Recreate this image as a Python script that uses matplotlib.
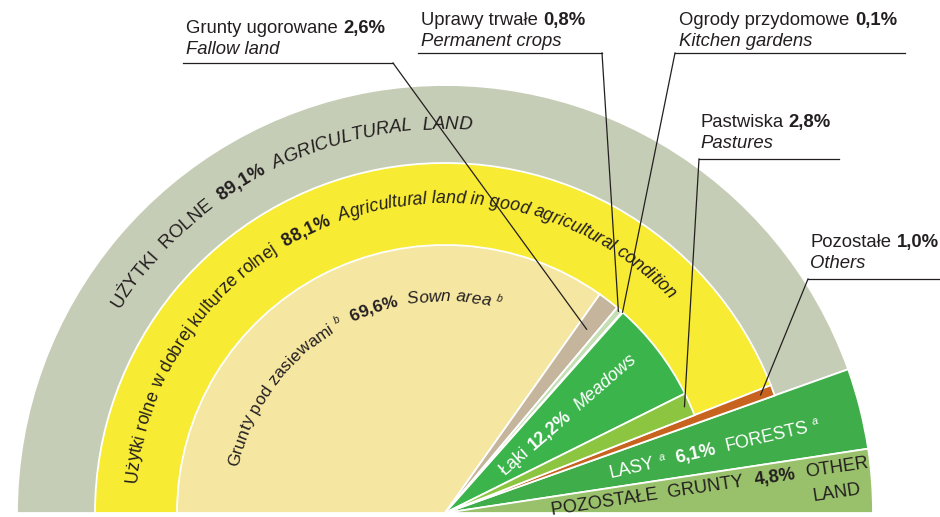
import numpy as np
import matplotlib
matplotlib.use("Agg")
import matplotlib.pyplot as plt
from matplotlib.font_manager import FontProperties, findfont, get_font

# udział w powierzchni ogólnej, %
outer_values = [89.1, 6.1, 4.8]          # użytki rolne, lasy, pozostałe grunty
outer_colors = ["#c6cdb6", "#3fae4a", "#99c06a"]

mid_values = [88.1, 1.0]                 # UR w dobrej kulturze, pozostałe
mid_colors = ["#f8eb33", "#c8621f"]

inner_values = [69.6, 2.6, 0.8, 0.1, 12.2, 2.8]   # zasiewy, ugory, uprawy trwałe, ogrody, łąki, pastwiska
inner_colors = ["#f5e6a1", "#c4b59c", "#c5dfb5", "#e6efd9", "#3bb44b", "#8cc540"]

DPI = 100
DARK = "#231f20"
CX, CY = 445, 4
R_OUT, R_MID, R_IN = 428, 350, 268
FAMILY = ["Liberation Sans", "DejaVu Sans"]
FS = 13.3

STY = {
    "n": dict(weight="normal", style="normal", scale=1.0, rise=0),
    "b": dict(weight="bold", style="normal", scale=1.0, rise=0),
    "i": dict(weight="normal", style="italic", scale=1.0, rise=0),
    "s": dict(weight="normal", style="italic", scale=0.6, rise=6),
}


def fprops(size, st):
    d = STY[st]
    return FontProperties(family=FAMILY, weight=d["weight"], style=d["style"],
                          size=size * d["scale"])


def advance(s, fp):
    font = get_font(findfont(fp))
    font.set_size(fp.get_size_in_points(), DPI)
    w = 0.0
    for ch in s:
        w += font.load_char(ord(ch)).linearHoriAdvance / 65536
    return w


fig = plt.figure(figsize=(9.4, 5.17), dpi=DPI)
ax = fig.add_axes([0, 0, 1, 1])

wp = dict(edgecolor="white", linewidth=1.3)
for vals, cols, r in [(outer_values, outer_colors, R_OUT),
                      (mid_values, mid_colors, R_MID),
                      (inner_values, inner_colors, R_IN)]:
    ax.pie(np.array(vals) / 200, radius=r, center=(CX, CY), startangle=180,
           counterclock=False, normalize=False, colors=cols, wedgeprops=wp)

ax.set_xlim(0, 940)
ax.set_ylim(0, 517)
ax.set_aspect("equal")
ax.axis("off")


def Y(py):
    return 517 - py


def mid_angle(vals, i):
    start = 180 - sum(vals[:i]) * 1.8
    return np.radians(start - vals[i] * 0.9)


def arc_text(segs, r, start, size=12, color=DARK):
    th = np.radians(start)
    for s, st in segs:
        fp = fprops(size, st)
        rr = r + STY[st]["rise"]
        for ch in s:
            w = advance(ch, fp)
            tc = th - (w / 2) / r
            if ch != " ":
                ax.text(CX + rr * np.cos(tc), CY + rr * np.sin(tc), ch, fontproperties=fp,
                        rotation=np.degrees(tc) - 90, rotation_mode="anchor",
                        ha="center", va="baseline", color=color)
            th -= w / r


def line_text(x, y, segs, rot=0, size=FS, color=DARK):
    a = np.radians(rot)
    for s, st in segs:
        fp = fprops(size, st)
        rise = STY[st]["rise"]
        lead = advance(s[:len(s) - len(s.lstrip())], fp)
        body = s.strip()
        if body:
            bx = x + lead * np.cos(a) - rise * np.sin(a)
            by = y + lead * np.sin(a) + rise * np.cos(a)
            ax.text(bx, by, body, fontproperties=fp, rotation=rot, rotation_mode="anchor",
                    ha="left", va="baseline", color=color)
        w = advance(s, fp)
        x += w * np.cos(a)
        y += w * np.sin(a)


# napisy w pierścieniach
arc_text([("UŻYTKI  ROLNE  ", "n"), ("89,1%", "b"), ("  AGRICULTURAL  LAND", "i")],
         384, 148, size=13.3)
arc_text([("Użytki rolne w dobrej kulturze rolnej  ", "n"), ("88,1%", "b"),
          ("  Agricultural land in good agricultural condition", "i")],
         310, 174.5, size=12.8)
arc_text([("Grunty pod zasiewami ", "n"), ("b", "s"), ("  ", "n"), ("69,6%", "b"),
          ("  Sown area ", "i"), ("b", "s")],
         212, 167.5, size=12.4)

# napisy w wycinkach
line_text(505, Y(476), [("Łąki ", "n"), ("12,2%", "b"), ("  Meadows", "i")], rot=41,
          size=12.9, color="white")
line_text(611, Y(478), [("LASY ", "n"), ("a", "s"), ("  ", "n"), ("6,1%", "b"),
                        ("  FORESTS ", "n"), ("a", "s")], rot=13, size=13, color="white")
line_text(552, Y(515), [("POZOSTAŁE  GRUNTY  ", "n"), ("4,8%", "b"), ("  OTHER", "n")],
          rot=8.5, size=13.1)
ax.text(861, Y(494), "LAND", fontproperties=fprops(13.1, "n"), rotation=8.5,
        rotation_mode="anchor", ha="right", va="baseline", color=DARK)

# opisy z liniami odniesienia: (linia1, liczba, linia2, x, y, podkreślenie x0, x1, y, start linii, cel)
callouts = [
    ("Grunty ugorowane ", "2,6%", "Fallow land", 186, 33, 183, 393, 63, 393, inner_values, 1, 232),
    ("Uprawy trwałe ", "0,8%", "Permanent crops", 421, 25, 418, 602, 53, 602, inner_values, 2, 266),
    ("Ogrody przydomowe ", "0,1%", "Kitchen gardens", 679, 25, 675, 905, 53, 675, inner_values, 3, 268),
    ("Pastwiska ", "2,8%", "Pastures", 700, 127, 699, 839, 159, 699, inner_values, 5, 262),
    ("Pozostałe ", "1,0%", "Others", 810, 247, 808, 940, 279, 808, mid_values, 1, 337),
]
for pl, pct, en, tx, ty, ux0, ux1, uy, lx, vals, idx, rr in callouts:
    line_text(tx, Y(ty), [(pl, "n"), (pct, "b")])
    line_text(tx, Y(ty + 21), [(en, "i")])
    ax.plot([ux0, ux1], [Y(uy), Y(uy)], color=DARK, lw=0.9)
    th = mid_angle(vals, idx)
    ax.plot([lx, CX + rr * np.cos(th)], [Y(uy), CY + rr * np.sin(th)], color=DARK, lw=0.9)

fig.savefig("out.png", dpi=DPI)
